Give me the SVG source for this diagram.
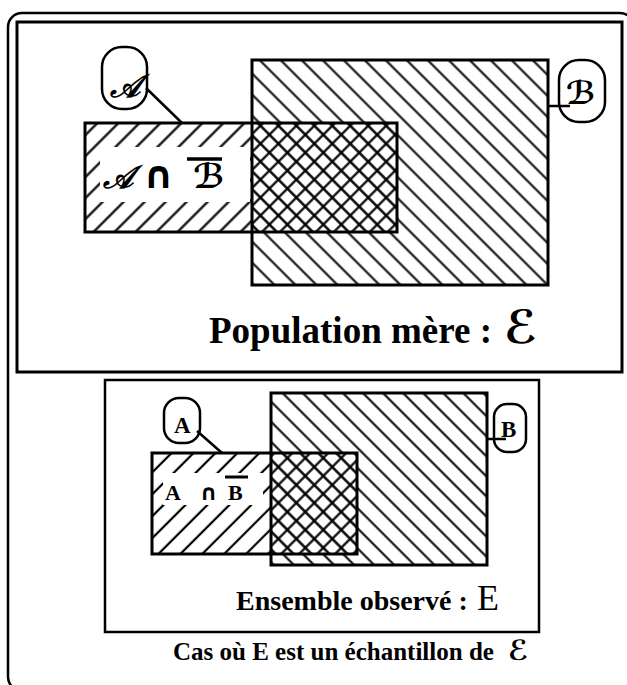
<svg xmlns="http://www.w3.org/2000/svg" width="627" height="685" viewBox="0 0 627 685">
<defs>
<pattern id="hA" patternUnits="userSpaceOnUse" width="14.85" height="14.85" patternTransform="rotate(-45)"><line x1="0" y1="7.4" x2="14.85" y2="7.4" stroke="#000" stroke-width="2.2"/></pattern>
<pattern id="hB" patternUnits="userSpaceOnUse" width="14.85" height="14.85" patternTransform="rotate(45)"><line x1="0" y1="7.4" x2="14.85" y2="7.4" stroke="#000" stroke-width="2"/></pattern>
<pattern id="hX" patternUnits="userSpaceOnUse" width="12.7" height="12.7" patternTransform="rotate(45)"><path d="M0 6.35H12.7M6.35 0V12.7" stroke="#000" stroke-width="2.2" fill="none"/></pattern>
<pattern id="hA2" patternUnits="userSpaceOnUse" width="15.5" height="15.5" patternTransform="rotate(-45)"><line x1="0" y1="7.7" x2="15.5" y2="7.7" stroke="#000" stroke-width="2.2"/></pattern>
<pattern id="hB2" patternUnits="userSpaceOnUse" width="14.2" height="14.2" patternTransform="rotate(45)"><line x1="0" y1="7.1" x2="14.2" y2="7.1" stroke="#000" stroke-width="2"/></pattern>
</defs>
<style>
.frame{fill:none;stroke:#000;stroke-width:2.5}
.edge{fill:none;stroke:#000;stroke-width:3}
.pill{fill:#fff;stroke:#000;stroke-width:2.5}
.lead{stroke:#000;stroke-width:2.5;fill:none}
.t{font-family:"Liberation Serif","Times New Roman",serif;font-weight:bold;fill:#000}
.s{font-family:"DejaVu Serif","DejaVu Sans","Noto Sans",serif;font-style:italic;font-weight:bold;fill:#000}
.cap{font-family:"DejaVu Sans","Noto Sans",sans-serif;font-weight:bold;fill:#000}
</style>
<rect width="627" height="685" fill="#fff"/>
<rect id="outer-frame" class="frame" x="8" y="13" width="626" height="678" rx="14"/>

<g id="population-panel">
<rect class="edge" x="17" y="22" width="605" height="350"/>
<g id="region-B-top">
<rect x="252" y="60" width="296" height="225" fill="url(#hB)"/>
</g>
<g id="region-A-notB-top">
<rect x="85" y="123" width="167" height="109" fill="#fff"/>
<rect x="85" y="123" width="167" height="109" fill="url(#hA)"/>
<rect x="100" y="147" width="150" height="55" fill="#fff"/>
<text class="s" x="103" y="188" font-size="32">𝒜</text>
<text class="cap" x="143" y="188" font-size="38">∩</text>
<text class="s" x="193" y="188" font-size="34">ℬ</text>
<line x1="187" y1="159" x2="222" y2="159" stroke="#000" stroke-width="3.5"/>
</g>
<g id="region-AB-top">
<rect x="252" y="123" width="145" height="109" fill="#fff"/>
<rect x="252" y="123" width="145" height="109" fill="url(#hX)"/>
</g>
<rect class="edge" x="252" y="60" width="296" height="225"/>
<rect class="edge" x="85" y="123" width="312" height="109"/>
<text class="t" x="209" y="343" font-size="37">Population mère :</text>
<text class="s" x="504" y="343" font-size="46">ℰ</text>
</g>

<g id="sample-panel">
<rect class="frame" x="105" y="380" width="434" height="252"/>
<g id="region-B-bottom">
<rect x="271" y="393" width="216" height="172" fill="url(#hB2)"/>
</g>
<g id="region-A-notB-bottom">
<rect x="152" y="453" width="119" height="101" fill="#fff"/>
<rect x="152" y="453" width="119" height="101" fill="url(#hA2)"/>
<rect x="163" y="473" width="100" height="32" fill="#fff"/>
<text class="t" x="165" y="500" font-size="22">A</text>
<text class="cap" x="200" y="500" font-size="22">∩</text>
<text class="t" x="228" y="500" font-size="22">B</text>
<line x1="225" y1="477" x2="248" y2="477" stroke="#000" stroke-width="3"/>
</g>
<g id="region-AB-bottom">
<rect x="271" y="453" width="86" height="101" fill="#fff"/>
<rect x="271" y="453" width="86" height="101" fill="url(#hX)"/>
</g>
<rect class="edge" x="271" y="393" width="216" height="172"/>
<rect class="edge" x="152" y="453" width="205" height="101"/>
<text class="t" x="236" y="610" font-size="28">Ensemble observé :</text>
<text x="477" y="610" font-size="36" font-family="Liberation Serif, serif" fill="#000">E</text>
</g>

<g id="label-A-top">
<rect class="pill" x="102" y="47" width="45" height="62" rx="20"/>
<text class="s" x="110" y="97" font-size="32">𝒜</text>
</g>
<g id="label-B-top">
<rect class="pill" x="559" y="60" width="46" height="62" rx="20"/>
<text class="s" x="566" y="104" font-size="32">ℬ</text>
</g>
<g id="label-A-bottom">
<rect class="pill" x="164" y="398" width="36" height="45" rx="15"/>
<text class="t" x="174" y="433" font-size="23">A</text>
</g>
<g id="label-B-bottom">
<rect class="pill" x="494" y="404" width="32" height="48" rx="13"/>
<text class="t" x="501" y="437" font-size="23">B</text>
</g>

<g id="connectors">
<line class="lead" x1="146" y1="88" x2="182" y2="123"/>
<line class="lead" x1="548" y1="106" x2="570" y2="106"/>
<line class="lead" x1="197" y1="431" x2="222" y2="453"/>
<line class="lead" x1="487" y1="439" x2="506" y2="439"/>
</g>

<text class="t" x="173" y="660" font-size="25">Cas où E est un échantillon de</text>
<text class="s" x="508" y="660" font-size="28">ℰ</text>
</svg>
